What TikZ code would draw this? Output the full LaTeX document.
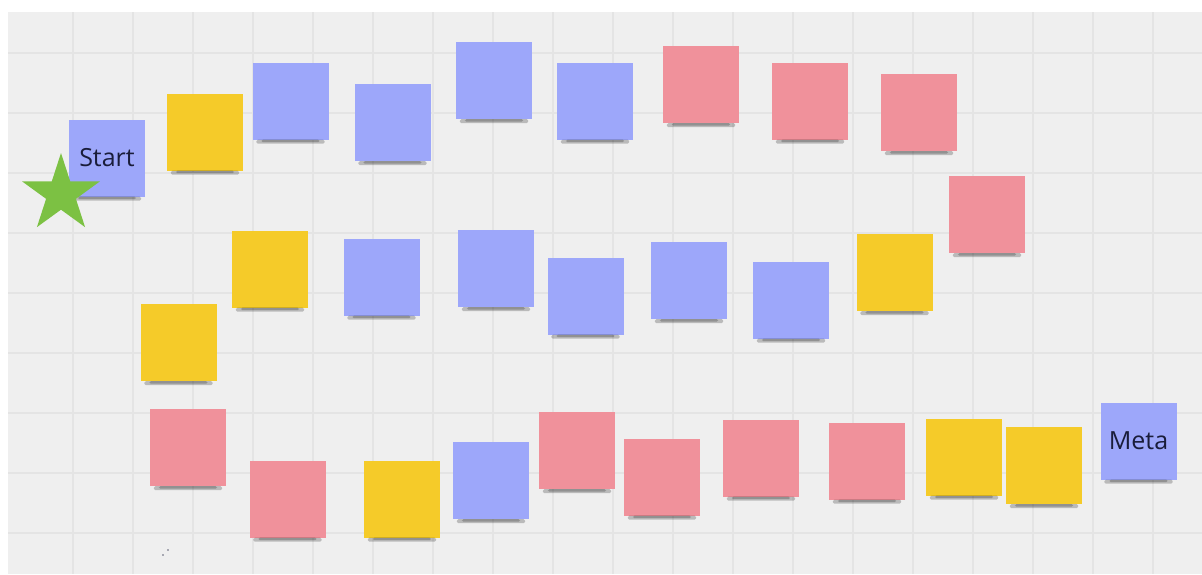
\documentclass[tikz,border=0pt]{standalone}
\usepackage{fontspec}
\setmainfont{Open Sans}
\usepackage{tikz}
\usetikzlibrary{shapes.geometric}
\definecolor{board}{HTML}{EFEFEF}
\definecolor{gridgrey}{HTML}{E4E4E4}
\definecolor{lilac}{HTML}{9DA7FA}
\definecolor{sun}{HTML}{F5CB29}
\definecolor{rose}{HTML}{F0919B}
\definecolor{leaf}{HTML}{7CC143}
\definecolor{ink}{HTML}{1A1D3A}

\begin{document}
\begin{tikzpicture}[
  x=1pt,y=-1pt,
  note/.style={minimum width=76pt,minimum height=77pt,inner sep=0pt,
               font=\fontsize{25}{30}\selectfont,text=ink},
  bluenote/.style={note,fill=lilac},
  yellownote/.style={note,fill=sun},
  pinknote/.style={note,fill=rose},
  notecast/.style={fill=black,opacity=.22,rounded corners=1.5pt},
  gridline/.style={draw=gridgrey,line width=1.3pt}
]
\fill[white] (0,0) rectangle (1202,574);
\useasboundingbox (0,0) rectangle (1202,574);
\fill[board] (8,12) rectangle (1202,574);
\foreach \gx in {73,133,...,1153} \draw[gridline] (\gx,12) -- (\gx,574);
\foreach \gy in {53,113,...,533} \draw[gridline] (8,\gy) -- (1202,\gy);

% top row
\node[bluenote] (n01) at (107,158) {Start};
\node[yellownote] (n02) at (205,132) {};
\node[bluenote] (n03) at (290.5,101) {};
\node[bluenote] (n04) at (392.5,122.5) {};
\node[bluenote] (n05) at (494,80.5) {};
\node[bluenote] (n06) at (595,101) {};
\node[pinknote] (n07) at (701,84.5) {};
\node[pinknote] (n08) at (810,101) {};
\node[pinknote] (n09) at (919,112.5) {};
\node[pinknote] (n10) at (987,214.5) {};
% middle row
\node[yellownote] (n11) at (894.5,272.5) {};
\node[bluenote] (n12) at (791,300) {};
\node[bluenote] (n13) at (689,280.5) {};
\node[bluenote] (n14) at (585.5,296) {};
\node[bluenote] (n15) at (496,268.5) {};
\node[bluenote] (n16) at (381.5,277) {};
\node[yellownote] (n17) at (270,269) {};
\node[yellownote] (n18) at (178.5,342.5) {};
% bottom row
\node[pinknote] (n19) at (188,447.5) {};
\node[pinknote] (n20) at (287.5,499) {};
\node[yellownote] (n21) at (402,499) {};
\node[bluenote] (n22) at (491,480.5) {};
\node[pinknote] (n23) at (577,450.5) {};
\node[pinknote] (n24) at (662,477) {};
\node[pinknote] (n25) at (761,458) {};
\node[pinknote] (n26) at (867,461) {};
\node[yellownote] (n27) at (964,457) {};
\node[yellownote] (n28) at (1044,465.5) {};
\node[bluenote] (n29) at (1138.5,441) {Meta};

% shadows under the notes
\foreach \n in {n01,n02,n03,n04,n05,n06,n07,n08,n09,n10,n11,n12,n13,n14,n15,
                n16,n17,n18,n19,n20,n21,n22,n23,n24,n25,n26,n27,n28,n29} {
  \fill[notecast] ([xshift=4pt]\n.south west) rectangle ([xshift=-4pt,yshift=-4pt]\n.south east);
  \fill[notecast] ([xshift=9pt]\n.south west) rectangle ([xshift=-9pt,yshift=-2.5pt]\n.south east);
}

\node[star,star points=5,star point ratio=2.618,minimum size=82pt,inner sep=0pt,
      fill=leaf] (startstar) at (61,194) {};

\fill[ink!70] (163,555) circle (0.8);
\fill[ink!70] (168,550) circle (0.8);
\end{tikzpicture}
\end{document}
